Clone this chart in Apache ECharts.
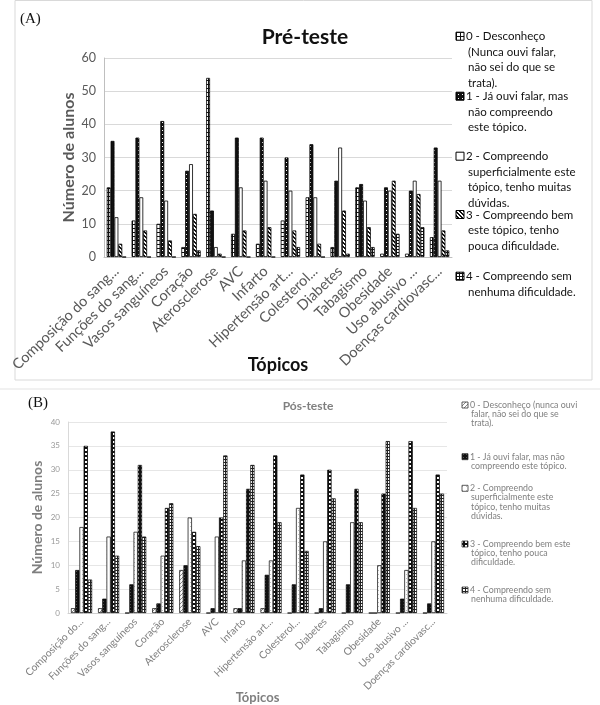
<!DOCTYPE html>
<html><head><meta charset="utf-8">
<script src="https://cdn.jsdelivr.net/npm/echarts@6/dist/echarts.min.js"></script>
<style>html,body{margin:0;padding:0;background:#fff}#c{width:600px;height:705px}</style>
</head><body><div id="c"></div>
<script>
// ---------- DATA ----------
const categoriesA = ['Composição do sang...', 'Funções do sang...', 'Vasos sanguíneos', 'Coração', 'Aterosclerose', 'AVC', 'Infarto', 'Hipertensão art...', 'Colesterol...', 'Diabetes', 'Tabagismo', 'Obesidade', 'Uso abusivo ...', 'Doenças cardiovasc...'];
const categoriesB = ['Composição do...', 'Funções do sang...', 'Vasos sanguíneos', 'Coração', 'Aterosclerose', 'AVC', 'Infarto', 'Hipertensão art...', 'Colesterol...', 'Diabetes', 'Tabagismo', 'Obesidade', 'Uso abusivo ...', 'Doenças cardiovasc...'];
const seriesNames = ['0 - Desconheço', '1 - Já ouvi falar', '2 - Compreendo superficialmente', '3 - Compreendo bem', '4 - Compreendo sem dificuldade'];
// Pré-teste
const pre0 = [21, 11, 10, 3, 54, 7, 4, 11, 18, 3, 21, 1, 1, 6];
const pre1 = [35, 36, 41, 26, 14, 36, 36, 30, 34, 23, 22, 21, 20, 33];
const pre2 = [12, 18, 17, 28, 3, 21, 23, 20, 18, 33, 17, 20, 23, 23];
const pre3 = [4, 8, 5, 13, 1, 8, 9, 8, 4, 14, 9, 23, 19, 8];
const pre4 = [0, 0, 0, 2, 0, 0, 0, 3, 0, 1, 3, 7, 9, 2];
// Pós-teste
const pos0 = [1, 1, 0, 1, 9, 0, 1, 1, 0, 0, 0, 0, 0, 0];
const pos1 = [9, 3, 6, 2, 10, 1, 1, 8, 6, 1, 6, 0, 3, 2];
const pos2 = [18, 16, 17, 12, 20, 16, 11, 11, 22, 15, 19, 10, 9, 15];
const pos3 = [35, 38, 31, 22, 17, 20, 26, 33, 29, 30, 26, 25, 36, 29];
const pos4 = [7, 12, 16, 23, 14, 33, 31, 19, 13, 24, 19, 36, 22, 25];
const yTicksA = {min: 0, max: 60, interval: 10};
const yTicksB = {min: 0, max: 40, interval: 5};
const legendA = [
  ['0 - Desconheço', '(Nunca ouvi falar,', 'não sei do que se', 'trata).'],
  ['1 - Já ouvi falar, mas', 'não compreendo', 'este tópico.'],
  ['2 - Compreendo', 'superficialmente este', 'tópico, tenho muitas', 'dúvidas.'],
  ['3 - Compreendo bem', 'este tópico, tenho', 'pouca dificuldade.'],
  ['4 - Compreendo sem', 'nenhuma dificuldade.']
];
const legendB = [
  ['0 - Desconheço (nunca ouvi', 'falar, não sei do que se', 'trata).'],
  ['1 - Já ouvi falar, mas não', 'compreendo este tópico.'],
  ['2 - Compreendo', 'superficialmente este', 'tópico, tenho muitas', 'dúvidas.'],
  ['3 - Compreendo bem este', 'tópico, tenho pouca', 'dificuldade.'],
  ['4 - Compreendo sem', 'nenhuma dificuldade.']
];

// ---------- PATTERNS ----------
function tile(w, h, bg, fg, pts) {
  const c = document.createElement('canvas'); c.width = w; c.height = h;
  const g = c.getContext('2d'); g.fillStyle = bg; g.fillRect(0, 0, w, h);
  g.fillStyle = fg; pts.forEach(p => g.fillRect(p[0], p[1], p[2] || 1, p[3] || 1));
  return {image: c, repeat: 'repeat'};
}
const patA = [
  tile(4, 4, '#fff', '#111', [[0, 0, 4, 1], [0, 0, 1, 4]]),
  tile(4, 4, '#111', '#fff', [[2, 2]]),
  tile(4, 4, '#fff', '#fff', []),
  tile(4, 4, '#fff', '#111', [[0, 0, 2, 1], [1, 1, 2, 1], [2, 2, 2, 1], [3, 3, 1, 1], [0, 3, 1, 1]]),
  tile(3, 3, '#fff', '#111', [[0, 0, 3, 1], [0, 0, 1, 3]])
];
const patB = [
  tile(4, 4, '#fff', '#888', [[0, 3], [1, 2], [2, 1], [3, 0]]),
  tile(3, 3, '#111', '#555', [[1, 1]]),
  tile(4, 4, '#fff', '#bbb', [[2, 2]]),
  tile(4, 4, '#111', '#fff', [[1, 1, 2, 2]]),
  tile(3, 3, '#fff', '#222', [[0, 0, 3, 1], [0, 0, 1, 3]])
];

const preData = [pre0, pre1, pre2, pre3, pre4];
const posData = [pos0, pos1, pos2, pos3, pos4];
const series = [];
preData.forEach((d, i) => series.push({
  name: seriesNames[i], type: 'bar', xAxisIndex: 0, yAxisIndex: 0, data: d,
  barGap: '0%', barCategoryGap: '22%',
  itemStyle: {color: patA[i], borderColor: '#000', borderWidth: 0.8}
}));
posData.forEach((d, i) => series.push({
  name: seriesNames[i] + ' (pós)', type: 'bar', xAxisIndex: 1, yAxisIndex: 1, data: d,
  barGap: '0%', barCategoryGap: '22%',
  itemStyle: {color: patB[i], borderColor: '#000', borderWidth: 0.7}
}));

// ---------- LEGEND (graphic) ----------
const graphic = [
  {type: 'rect', shape: {x: 15, y: 0.5, width: 577, height: 379.5}, style: {fill: 'none', stroke: '#d9d9d9', lineWidth: 1}},
  {type: 'line', shape: {x1: 0, y1: 389, x2: 600, y2: 389}, style: {stroke: '#e3e3e3', lineWidth: 1}},
  {type: 'text', left: 20, top: 12, style: {text: '(A)', font: '15px "Liberation Serif"', fill: '#111'}},
  {type: 'text', left: 28, top: 396, style: {text: '(B)', font: '15px "Liberation Serif"', fill: '#111'}}
];
const tA = [36.7, 96.7, 156.7, 215, 276.7];
legendA.forEach((lines, i) => {
  graphic.push({type: 'rect', shape: {x: 456, y: tA[i] - 4.5, width: 8, height: 8}, style: {fill: patA[i], stroke: '#000', lineWidth: 1}});
  lines.forEach((t, j) => graphic.push({type: 'text', x: j === 0 ? 466 : 468, y: tA[i] + j * 15.5,
    style: {text: t, font: '11.5px Lato', fill: '#111', textVerticalAlign: 'middle'}}));
});
const tB = [405, 456.7, 488.3, 544, 590];
legendB.forEach((lines, i) => {
  graphic.push({type: 'rect', shape: {x: 462, y: tB[i] - 3, width: 6, height: 6}, style: {fill: patB[i], stroke: '#333', lineWidth: 0.8}});
  lines.forEach((t, j) => graphic.push({type: 'text', x: j === 0 ? 470 : 471, y: tB[i] + j * 9.3,
    style: {text: t, font: '8.8px Lato', fill: '#7f7f7f', textVerticalAlign: 'middle'}}));
});

const chart = echarts.init(document.getElementById('c'), null, {renderer: 'canvas'});
chart.setOption({
  animation: false,
  backgroundColor: '#fff',
  title: [
    {text: 'Pré-teste', left: 300, top: 22, textAlign: 'center', textStyle: {fontFamily: 'Lato', fontWeight: 'bold', fontSize: 21, color: '#111'}},
    {text: 'Pós-teste', left: 303, top: 395, textAlign: 'center', textStyle: {fontFamily: 'Lato', fontWeight: 'bold', fontSize: 12, color: '#7f7f7f'}}
  ],
  grid: [
    {left: 104, right: 148, top: 58, height: 199},
    {left: 68, right: 153, top: 422, height: 192}
  ],
  xAxis: [
    {type: 'category', gridIndex: 0, data: categoriesA, name: 'Tópicos', nameLocation: 'middle', nameGap: 99, nameMoveOverlap: false,
      nameTextStyle: {fontFamily: 'Lato', fontWeight: 'bold', fontSize: 18, color: '#111'},
      axisLine: {lineStyle: {color: '#bfbfbf'}}, axisTick: {show: false},
      axisLabel: {interval: 0, rotate: 44, margin: 12, fontFamily: 'Lato', fontSize: 14.5, color: '#595959'}},
    {type: 'category', gridIndex: 1, data: categoriesB, name: 'Tópicos', nameLocation: 'middle', nameGap: 78, nameMoveOverlap: false,
      nameTextStyle: {fontFamily: 'Lato', fontWeight: 'bold', fontSize: 13, color: '#7f7f7f'},
      axisLine: {lineStyle: {color: '#d0d0d0'}}, axisTick: {show: false},
      axisLabel: {interval: 0, rotate: 45, margin: 7, fontFamily: 'Lato', fontSize: 10.3, color: '#7f7f7f'}}
  ],
  yAxis: [
    {type: 'value', gridIndex: 0, min: yTicksA.min, max: yTicksA.max, interval: yTicksA.interval,
      name: 'Número de alunos', nameLocation: 'middle', nameGap: 27, nameMoveOverlap: false,
      nameTextStyle: {fontFamily: 'Lato', fontWeight: 'bold', fontSize: 16, color: '#595959'},
      axisLine: {show: true, lineStyle: {color: '#bfbfbf'}}, axisTick: {show: false},
      splitLine: {lineStyle: {color: '#d9d9d9'}},
      axisLabel: {fontFamily: 'Lato', fontSize: 12.5, color: '#595959', margin: 8}},
    {type: 'value', gridIndex: 1, min: yTicksB.min, max: yTicksB.max, interval: yTicksB.interval,
      name: 'Número de alunos', nameLocation: 'middle', nameGap: 24, nameMoveOverlap: false,
      nameTextStyle: {fontFamily: 'Lato', fontWeight: 'bold', fontSize: 14, color: '#7f7f7f'},
      axisLine: {show: true, lineStyle: {color: '#d9d9d9'}}, axisTick: {show: false},
      splitLine: {lineStyle: {color: '#e6e6e6'}},
      axisLabel: {fontFamily: 'Lato', fontSize: 8, color: '#999', margin: 8}}
  ],
  graphic: graphic,
  series: series
});
</script></body></html>
